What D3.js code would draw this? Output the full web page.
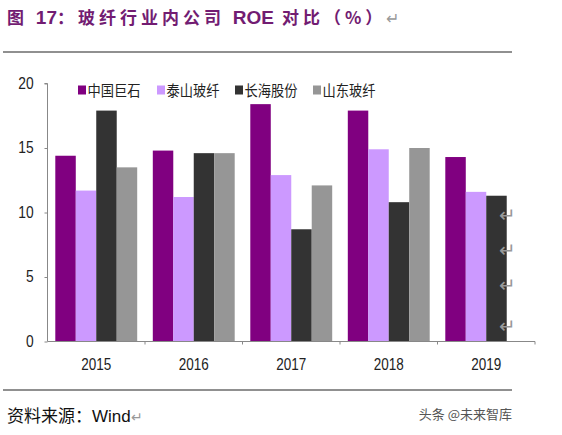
<!DOCTYPE html>
<html>
<head>
<meta charset="utf-8">
<script src="https://cdn.jsdelivr.net/npm/d3@7"></script>
<style>
  body { margin: 0; background: #fff; }
  svg { display: block; }
</style>
</head>
<body>
<script>
const years = ["2015", "2016", "2017", "2018", "2019"];
const companies = ["中国巨石", "泰山玻纤", "长海股份", "山东玻纤"];
const colors = ["#800080", "#cc99ff", "#333333", "#969696"];
const jushi = [14.4, 14.8, 18.4, 17.9, 14.3];
const taishan = [11.7, 11.2, 12.9, 14.9, 11.6];
const changhai = [17.9, 14.6, 8.7, 10.8, 11.3];
const shandong = [13.5, 14.6, 12.1, 15.0, null];
const yTicks = [0, 5, 10, 15, 20];

const series = [jushi, taishan, changhai, shandong];

const width = 562, height = 435;
const svg = d3.select("body").append("svg")
  .attr("width", width)
  .attr("height", height);

const fontCN = "'Noto Sans CJK SC', sans-serif";
const fontNum = "'Liberation Sans', Arial, sans-serif";

// 标题
const title = svg.append("text")
  .attr("x", 7).attr("y", 24)
  .attr("fill", "#721c72")
  .attr("font-family", fontCN)
  .attr("font-weight", "bold")
  .attr("font-size", 17)
  .attr("letter-spacing", 4);
title.append("tspan").text("图 ");
title.append("tspan").attr("font-family", fontNum).attr("font-size", 19).attr("letter-spacing", 0).text("17");
title.append("tspan").text("：玻纤行业内公司 ");
title.append("tspan").attr("font-family", fontNum).attr("font-size", 19).attr("letter-spacing", 0).text("ROE");
title.append("tspan").text(" 对比（%）");
title.append("tspan").attr("fill", "#999").attr("font-weight", "normal").attr("font-size", 16).attr("letter-spacing", 0).text("↵");

svg.append("line")
  .attr("x1", 3).attr("x2", 512).attr("y1", 52).attr("y2", 52)
  .attr("stroke", "#222").attr("stroke-width", 1.2);
svg.append("line")
  .attr("x1", 3).attr("x2", 512).attr("y1", 390).attr("y2", 390)
  .attr("stroke", "#222").attr("stroke-width", 1.2);

// 图表
const margin = { left: 47.5, right: 535, top: 83.5, bottom: 341.5 };

const x = d3.scaleBand()
  .domain(years)
  .range([margin.left, margin.right])
  .paddingInner(0.16)
  .paddingOuter(0.08);

const xSub = d3.scaleBand()
  .domain(d3.range(companies.length))
  .range([0, x.bandwidth()]);

const y = d3.scaleLinear()
  .domain([0, 20])
  .range([margin.bottom, margin.top]);

const g = svg.append("g");

series.forEach((vals, i) => {
  g.append("g")
    .attr("fill", colors[i])
    .selectAll("rect")
    .data(years.map((yr, j) => ({ yr, v: vals[j] })).filter(d => d.v != null))
    .join("rect")
    .attr("x", d => x(d.yr) + xSub(i))
    .attr("width", xSub.bandwidth())
    .attr("y", d => y(d.v))
    .attr("height", d => y(0) - y(d.v));
});

// y轴
const yAxis = svg.append("g")
  .attr("transform", `translate(${margin.left},0)`)
  .call(d3.axisLeft(y).tickValues(yTicks).tickSize(3).tickPadding(12));
yAxis.select(".domain").attr("stroke", "#888").attr("d", `M-3,${y(20)}H0V${y(0)}`);
yAxis.selectAll(".tick line").attr("stroke", "#888");
yAxis.selectAll(".tick text")
  .attr("font-family", fontNum)
  .attr("font-size", 15)
  .attr("fill", "#222")
  .attr("transform", "scale(0.92,1.05)")
  .attr("dy", "0.3em");

// x轴
const step = x.step();
const xAxis = svg.append("g")
  .attr("transform", `translate(0,${margin.bottom})`);
xAxis.append("line")
  .attr("x1", margin.left).attr("x2", margin.right)
  .attr("stroke", "#888");
xAxis.selectAll("line.sep")
  .data(years)
  .join("line")
  .attr("class", "sep")
  .attr("x1", d => x(d) + x.bandwidth() + (step - x.bandwidth()) / 2)
  .attr("x2", d => x(d) + x.bandwidth() + (step - x.bandwidth()) / 2)
  .attr("y1", 0).attr("y2", 3)
  .attr("stroke", "#888");
xAxis.selectAll("text")
  .data(years)
  .join("text")
  .attr("x", d => x(d) + x.bandwidth() / 2)
  .attr("y", 28)
  .attr("text-anchor", "middle")
  .attr("font-family", fontNum)
  .attr("font-size", 16)
  .attr("textLength", 30)
  .attr("lengthAdjust", "spacingAndGlyphs")
  .attr("fill", "#222")
  .text(d => d);

// 图例
const legendX = [78, 157, 235, 313];
const legend = svg.append("g")
  .selectAll("g")
  .data(companies)
  .join("g")
  .attr("transform", (d, i) => `translate(${legendX[i]},90)`);
legend.append("rect")
  .attr("x", 0).attr("y", -4.5)
  .attr("width", 8).attr("height", 9)
  .attr("fill", (d, i) => colors[i]);
legend.append("text")
  .attr("x", 9.5).attr("y", 6)
  .attr("font-family", fontCN)
  .attr("font-size", 15)
  .attr("fill", "#222")
  .attr("textLength", 53)
  .attr("lengthAdjust", "spacingAndGlyphs")
  .text(d => d);

// 段落标记
svg.append("g")
  .selectAll("text")
  .data([222, 257, 292, 333])
  .join("text")
  .attr("x", 499).attr("y", d => d)
  .attr("font-family", fontNum)
  .attr("font-size", 20)
  .attr("fill", "#999")
  .text("↵");

// 来源
const src = svg.append("text")
  .attr("x", 7).attr("y", 422)
  .attr("font-family", fontCN)
  .attr("font-size", 17)
  .attr("fill", "#111");
src.append("tspan").text("资料来源：");
src.append("tspan").attr("font-family", fontNum).text("Wind");
src.append("tspan").attr("fill", "#999").attr("font-size", 14).text("↵");

svg.append("text")
  .attr("x", 512).attr("y", 419)
  .attr("text-anchor", "end")
  .attr("font-family", fontCN)
  .attr("font-size", 13)
  .attr("fill", "#555")
  .text("头条 @未来智库");
</script>
</body>
</html>
